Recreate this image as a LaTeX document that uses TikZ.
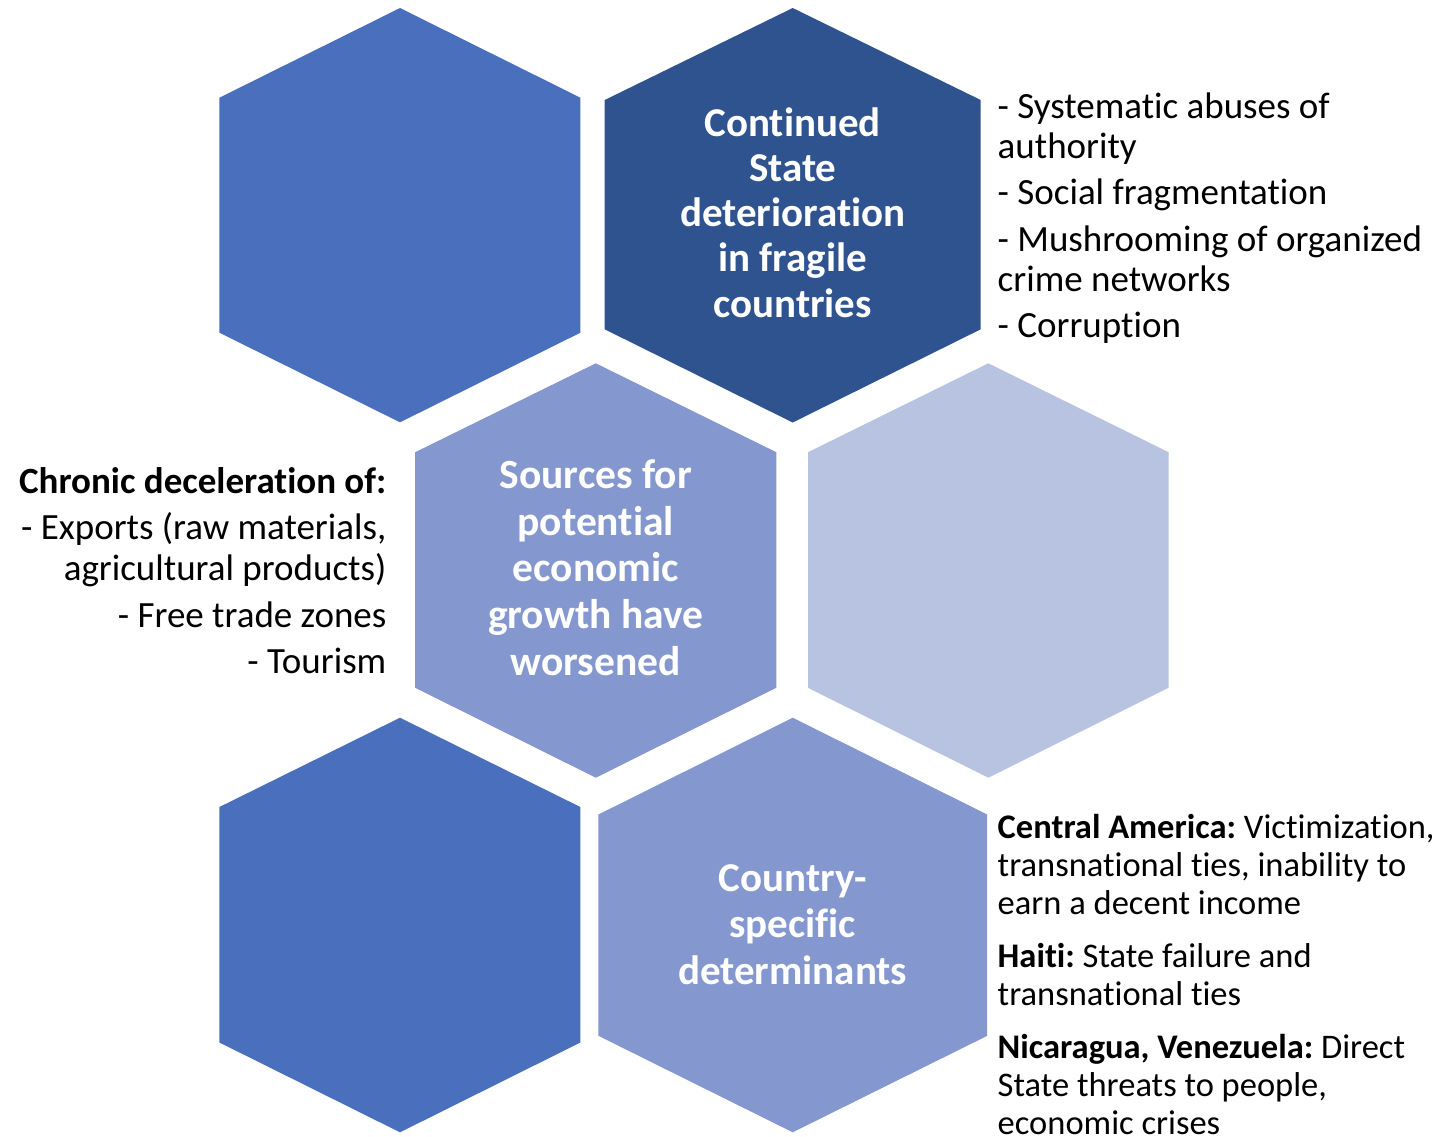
\documentclass[tikz,border=0pt]{standalone}
\usepackage{fontspec}
\setmainfont{Carlito}[Ligatures={NoCommon}]
\frenchspacing

\definecolor{cellMid}{HTML}{4A70BD}
\definecolor{cellDark}{HTML}{2F538F}
\definecolor{cellSoft}{HTML}{8498CF}
\definecolor{cellPale}{HTML}{B7C3E1}

% pointy-top hexagon: style, left x, centre x, right x, top y, upper side y, lower side y, bottom y
\newcommand\hexcell[8]{%
  \fill[#1] (#3,#5) -- (#4,#6) -- (#4,#7) -- (#3,#8) -- (#2,#7) -- (#2,#6) -- cycle;}

\begin{document}
\begin{tikzpicture}[x=1pt,y=-1pt,
  hextext/.style={text=white, align=center, inner sep=0pt, anchor=north},
  sidetext/.style={text=black, inner sep=0pt}]
\useasboundingbox (0,0) rectangle (1447,1136);

% honeycomb cells
\hexcell{cellMid}{219.4}{400}{580.4}{8}{97.7}{332.7}{422.3}
\hexcell{cellDark}{604.7}{792.7}{980.7}{8}{100}{329.3}{422.5}
\hexcell{cellSoft}{415.2}{595.8}{776.3}{363.3}{452.2}{687.8}{777.7}
\hexcell{cellPale}{808}{988.3}{1168.6}{363.3}{452.2}{687.8}{777.7}
\hexcell{cellMid}{219.4}{400}{580.4}{717.7}{807}{1042.5}{1132.3}
\hexcell{cellSoft}{598.4}{792.7}{987.2}{717.7}{814.5}{1035.8}{1132.3}

% captions inside the cells
\node[hextext, font=\fontsize{41}{45.2}\selectfont\bfseries] (state) at (792.7,104.4)
  {\strut Continued\\State\\deterioration\\in fragile\\countries};
\node[hextext, font=\fontsize{41.5}{46.7}\selectfont\bfseries] (growth) at (595.8,455.6)
  {\strut Sources for\\potential\\economic\\growth have\\worsened};
\node[hextext, font=\fontsize{41}{46.5}\selectfont\bfseries] (country) at (792.7,858.5)
  {\strut Country-\\specific\\determinants};

% side notes
\node[sidetext, align=left, anchor=north west, font=\fontsize{37}{40}\selectfont] (stateNotes) at (997.5,90)
  {\strut - Systematic abuses of\\authority\\[6.5pt]- Social fragmentation\\[6.5pt]- Mushrooming of organized\\crime networks\\[6.5pt]- Corruption};

\node[sidetext, align=right, anchor=north east, font=\fontsize{37}{41}\selectfont] (growthNotes) at (386.5,464.3)
  {\strut\textbf{Chronic deceleration of:}\\[5.5pt]- Exports (raw materials,\\agricultural products)\\[5.5pt]- Free trade zones\\[5.5pt]- Tourism};

\node[sidetext, align=left, anchor=north west, font=\fontsize{34.5}{38}\selectfont] (countryNotes) at (997.5,812)
  {\strut\textbf{Central America:} Victimization,\\transnational ties, inability to\\earn a decent income\\[15pt]\textbf{Haiti:} State failure and\\transnational ties\\[15pt]\textbf{Nicaragua, Venezuela:} Direct\\State threats to people,\\economic crises};
\end{tikzpicture}
\end{document}
